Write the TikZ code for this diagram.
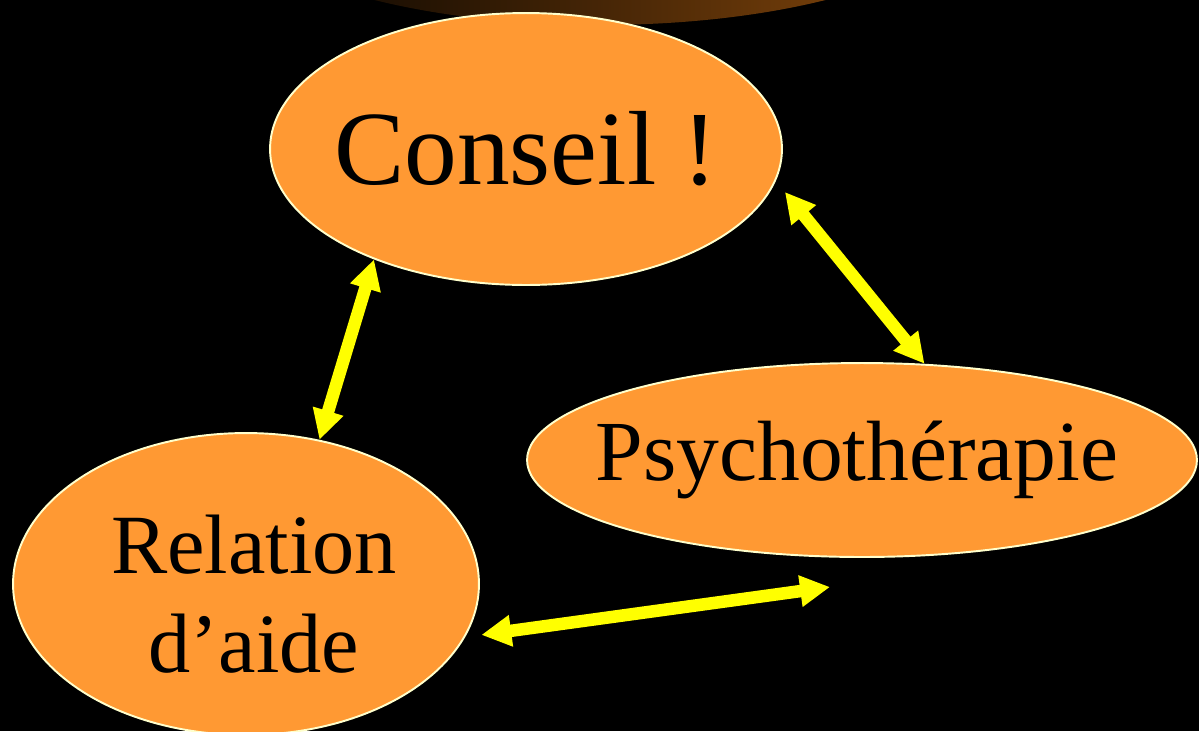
\documentclass[tikz,border=0pt]{standalone}
\usepackage{fontspec}
\setmainfont{Liberation Serif}
\usetikzlibrary{shapes.geometric,arrows.meta}
\definecolor{orangebulle}{RGB}{255,153,51}
\definecolor{bordbulle}{RGB}{255,255,204}
\definecolor{jaune}{RGB}{255,255,0}
\definecolor{brun}{RGB}{140,75,12}
\begin{document}
\begin{tikzpicture}[x=0.02cm,y=-0.02cm,
  bulle/.style={draw=bordbulle,line width=1.1pt,fill=orangebulle,ellipse,inner sep=0pt},
  fleche/.style={draw=jaune,line width=0.25cm,{Triangle[length=17pt,width=17pt]}-{Triangle[length=17pt,width=17pt]}}]
\fill[black] (0,0) rectangle (1199,731);
\useasboundingbox (0,0) rectangle (1199,731);
\begin{scope}
\clip (0,0) rectangle (1199,731);
\shade[left color=black,middle color=black,right color=brun] (600,-100) ellipse [x radius=7.52cm,y radius=2.5cm];
\end{scope}
\node[bulle,minimum width=10.24cm,minimum height=5.44cm,
  label={[font=\fontsize{60}{70}\selectfont]center:Conseil !}] (conseil) at (526,149) {};
\node[bulle,minimum width=13.4cm,minimum height=3.88cm,
  label={[font=\fontsize{48.7}{56}\selectfont,xshift=-0.1cm]center:Psychothérapie}] (psycho) at (862,460) {};
\node[bulle,minimum width=9.32cm,minimum height=6.04cm,
  label={[font=\fontsize{48}{56}\selectfont,align=center,xshift=0.16cm,yshift=-0.2cm]center:Relation\\d’aide}] (relation) at (246,584) {};
\coordinate (bout) at (830,587);
\draw[fleche] (conseil.216) -- (relation.63);
\draw[fleche] ([xshift=0.3cm]conseil.-10) -- (psycho.57);
\draw[fleche] ([xshift=0.3cm]relation.-13) -- (bout);
\end{tikzpicture}
\end{document}
